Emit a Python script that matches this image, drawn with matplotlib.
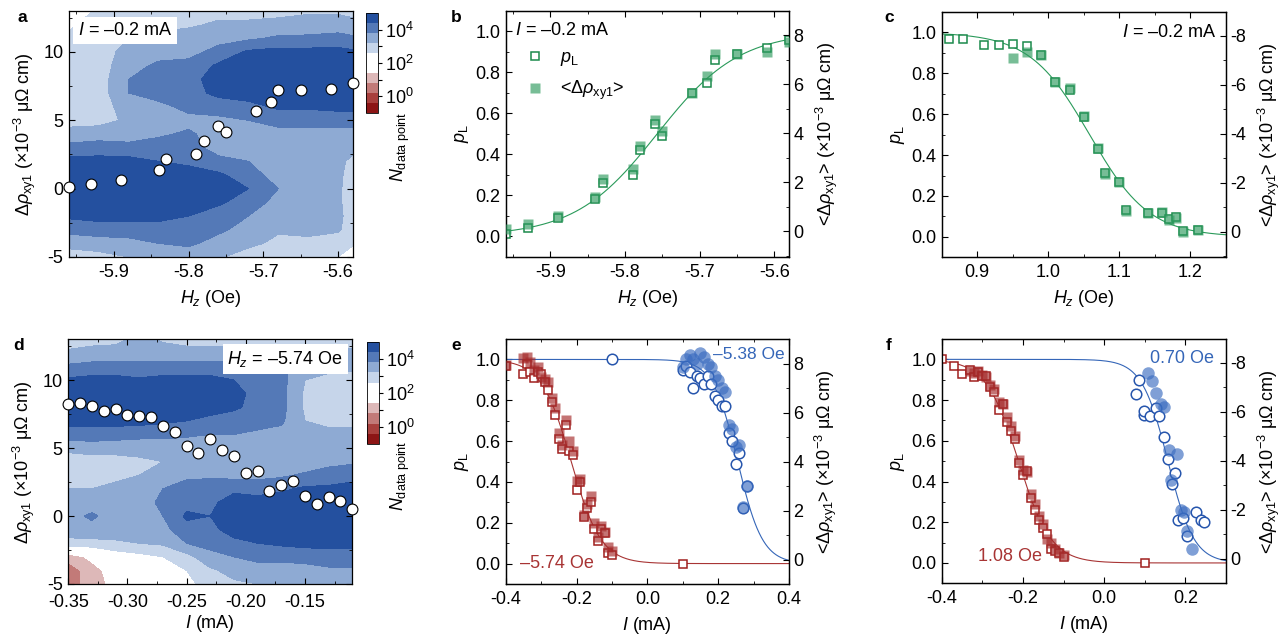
import numpy as np
import matplotlib
matplotlib.use("Agg")
import matplotlib.pyplot as plt
from matplotlib.ticker import MultipleLocator, FormatStrFormatter
from matplotlib.lines import Line2D

# ---------------- data ----------------
# panel a / b : I = -0.2 mA, sweep of H_z
hz_ab = [-5.96, -5.93, -5.89, -5.84, -5.83, -5.79, -5.78, -5.76, -5.75,
         -5.71, -5.69, -5.68, -5.65, -5.61, -5.58]
drho_ab = [0.10, 0.32, 0.64, 1.40, 2.15, 2.55, 3.50, 4.55, 4.12,
           5.66, 6.35, 7.23, 7.23, 7.32, 7.74]
pl_b = [0.01, 0.04, 0.09, 0.18, 0.26, 0.30, 0.42, 0.55, 0.49,
        0.70, 0.75, 0.86, 0.89, 0.92, 0.96]

# panel c : I = -0.2 mA, positive H_z
hz_c = [0.86, 0.88, 0.91, 0.93, 0.95, 0.97, 0.99, 1.01, 1.03, 1.05,
        1.07, 1.08, 1.10, 1.11, 1.14, 1.16, 1.17, 1.18, 1.19, 1.21]
pl_c = [0.97, 0.97, 0.94, 0.94, 0.945, 0.935, 0.89, 0.76, 0.72, 0.585,
        0.43, 0.31, 0.27, 0.13, 0.115, 0.115, 0.085, 0.095, 0.03, 0.035]
hz_c_rho = [0.95, 0.97, 0.99, 1.01, 1.03, 1.05, 1.07, 1.08, 1.10,
            1.11, 1.14, 1.16, 1.17, 1.18, 1.19, 1.21]
drho_c = [-7.09, -7.36, -7.22, -6.13, -5.88, -4.71, -3.41, -2.36, -2.03,
          -0.86, -0.75, -0.82, -0.48, -0.55, 0.03, -0.07]

# panel d : H_z = -5.74 Oe, sweep of I
i_d = [-0.35, -0.34, -0.33, -0.32, -0.31, -0.30, -0.29, -0.28, -0.27,
       -0.26, -0.25, -0.24, -0.23, -0.22, -0.21, -0.20, -0.19, -0.18,
       -0.17, -0.16, -0.15, -0.14, -0.13, -0.12, -0.11]
drho_d = [8.21, 8.28, 8.06, 7.74, 7.84, 7.45, 7.38, 7.26, 6.60,
          6.18, 5.15, 4.66, 5.69, 4.85, 4.41, 3.19, 3.28, 1.81,
          2.28, 2.60, 1.47, 0.91, 1.38, 1.13, 0.52]

# panel e : -5.74 Oe (red) and -5.38 Oe (blue)
e_red_i = [-0.40, -0.35, -0.34, -0.33, -0.32, -0.31, -0.30, -0.29, -0.28,
           -0.27, -0.26, -0.25, -0.24, -0.23, -0.22, -0.21, -0.20, -0.19,
           -0.18, -0.17, -0.16, -0.15, -0.14, -0.13, -0.12, -0.11, -0.10, 0.10]
e_red_pl = [0.97, 0.93, 0.98, 0.94, 0.91, 0.94, 0.93, 0.89, 0.85,
            0.79, 0.73, 0.61, 0.56, 0.68, 0.55, 0.53, 0.36, 0.40,
            0.23, 0.27, 0.30, 0.17, 0.11, 0.17, 0.15, 0.05, 0.04, 0.00]
e_red_rho_i = [-0.40, -0.35, -0.34, -0.33, -0.32, -0.31, -0.30, -0.29, -0.28,
               -0.27, -0.26, -0.25, -0.24, -0.23, -0.22, -0.21, -0.20, -0.19,
               -0.18, -0.17, -0.16, -0.15, -0.14, -0.13, -0.12, -0.11, -0.10]
e_red_rho = [7.92, 8.21, 8.28, 8.06, 7.74, 7.84, 7.45, 7.38, 7.26,
             6.60, 6.18, 5.15, 4.66, 5.69, 4.85, 4.41, 3.19, 3.28,
             1.81, 2.28, 2.60, 1.47, 0.91, 1.38, 1.13, 0.52, 0.35]
e_blue_i = [-0.10, 0.10, 0.11, 0.12, 0.13, 0.14, 0.15, 0.16, 0.17, 0.18,
            0.19, 0.20, 0.21, 0.22, 0.23, 0.24, 0.25, 0.26, 0.27, 0.28]
e_blue_pl = [1.00, 0.95, 0.97, 0.94, 0.86, 0.92, 0.91, 0.88, 0.92, 0.88,
             0.82, 0.80, 0.77, 0.77, 0.64, 0.60, 0.49, 0.54, 0.27, 0.38]
e_blue_rho_i = [0.10, 0.11, 0.12, 0.13, 0.14, 0.15, 0.16, 0.17, 0.18, 0.19,
                0.20, 0.21, 0.22, 0.23, 0.24, 0.25, 0.26, 0.27, 0.28]
e_blue_rho = [7.84, 8.17, 8.34, 8.17, 8.00, 8.42, 8.25, 8.00, 7.84, 7.50,
              7.34, 7.00, 6.83, 5.50, 5.33, 4.58, 4.66, 2.16, 2.99]

# panel f : 1.08 Oe (red) and 0.70 Oe (blue)
f_red_i = [-0.40, -0.37, -0.35, -0.33, -0.32, -0.31, -0.30, -0.29, -0.28,
           -0.27, -0.26, -0.25, -0.24, -0.23, -0.22, -0.21, -0.20, -0.19,
           -0.18, -0.17, -0.16, -0.15, -0.14, -0.13, -0.12, -0.11, -0.10, 0.10]
f_red_pl = [1.00, 0.965, 0.93, 0.95, 0.915, 0.94, 0.92, 0.92, 0.865,
            0.84, 0.75, 0.78, 0.69, 0.65, 0.61, 0.49, 0.43, 0.45,
            0.32, 0.26, 0.21, 0.17, 0.14, 0.07, 0.06, 0.05, 0.03, 0.00]
f_red_rho_i = [-0.33, -0.32, -0.31, -0.30, -0.29, -0.28, -0.27, -0.26,
               -0.25, -0.24, -0.23, -0.22, -0.21, -0.20, -0.19, -0.18,
               -0.17, -0.16, -0.15, -0.14, -0.13, -0.12, -0.11, -0.10]
f_red_rho = [-7.65, -7.56, -7.65, -7.48, -7.40, -7.07, -6.91, -6.41,
             -6.33, -5.76, -5.43, -5.02, -4.03, -3.62, -3.54, -2.63,
             -2.22, -1.73, -1.40, -0.82, -0.66, -0.41, -0.25, -0.17]
f_blue_i = [0.078, 0.087, 0.097, 0.099, 0.114, 0.128, 0.135, 0.148, 0.156,
            0.168, 0.174, 0.182, 0.195, 0.205, 0.226, 0.238, 0.245]
f_blue_pl = [0.83, 0.90, 0.725, 0.745, 0.72, 0.76, 0.72, 0.62, 0.51,
             0.39, 0.44, 0.21, 0.22, 0.13, 0.25, 0.21, 0.20]
f_blue_rho_i = [0.107, 0.119, 0.127, 0.140, 0.148, 0.160, 0.164, 0.179,
                0.189, 0.197, 0.205, 0.217]
f_blue_rho = [-7.56, -7.24, -6.74, -6.33, -6.17, -4.44, -3.21, -4.28,
              -1.97, -1.89, -1.15, -0.41]

# logistic fits (centre, width); negative width = rising curve
fit_b = (-5.757, -0.055)
fit_c = (1.058, 0.042)
fit_e_red = (-0.215, 0.042)
fit_e_blue = (0.255, 0.035)
fit_f_red = (-0.211, 0.040)
fit_f_blue = (0.157, 0.032)

# log10(N data point) maps, one list per column, rows from y=13 down to y=-5
grid_y = [13, 12, 11, 10, 9, 8, 7, 6, 5, 4, 3, 2, 1, 0, -1, -2, -3, -4, -5]
grid_x_a = [-5.96, -5.92, -5.88, -5.84, -5.80, -5.76, -5.72, -5.68, -5.64, -5.60, -5.58]
dens_a = [
    [1.3, 2.5, 2.7, 2.8, 2.9, 2.9, 2.9, 3.0, 3.0, 3.4, 4.0, 4.6, 4.8, 4.8, 4.7, 4.5, 4.0, 3.4, 2.9],
    [2.9, 2.9, 2.8, 2.8, 2.9, 2.9, 2.9, 2.9, 3.0, 3.5, 4.1, 4.6, 4.8, 4.8, 4.8, 4.6, 4.1, 3.5, 3.0],
    [2.9, 3.0, 3.2, 3.5, 3.6, 3.8, 3.8, 3.5, 3.3, 3.5, 4.0, 4.6, 4.8, 4.8, 4.8, 4.6, 4.1, 3.6, 3.2],
    [2.9, 3.0, 3.4, 3.6, 3.9, 4.1, 4.1, 3.6, 3.5, 3.7, 4.1, 4.4, 4.8, 4.8, 4.8, 4.6, 4.1, 3.8, 3.3],
    [2.7, 3.1, 3.5, 3.6, 4.0, 4.1, 4.1, 4.0, 3.6, 3.9, 4.1, 4.3, 4.6, 4.8, 4.7, 4.4, 4.1, 3.9, 3.5],
    [3.0, 3.3, 3.6, 4.0, 4.5, 4.8, 4.6, 4.0, 3.7, 3.5, 3.5, 4.0, 4.5, 4.8, 4.5, 4.1, 3.9, 3.6, 3.3],
    [3.0, 3.3, 3.7, 4.5, 4.8, 4.8, 4.7, 4.2, 3.8, 3.5, 3.5, 3.8, 4.1, 4.4, 4.1, 3.8, 3.6, 3.4, 2.8],
    [3.0, 3.4, 3.9, 4.6, 4.8, 4.8, 4.8, 4.5, 4.0, 3.6, 3.4, 3.4, 3.5, 3.8, 3.6, 3.5, 3.3, 3.0, 2.7],
    [3.1, 3.5, 3.9, 4.6, 4.8, 4.8, 4.8, 4.5, 4.0, 3.6, 3.4, 3.4, 3.4, 3.4, 3.4, 3.35, 3.3, 3.1, 2.8],
    [3.1, 3.5, 4.0, 4.6, 4.8, 4.8, 4.8, 4.6, 4.0, 3.6, 3.4, 3.3, 3.3, 3.3, 3.3, 3.3, 3.25, 3.0, 2.6],
    [3.0, 3.4, 3.9, 4.5, 4.8, 4.8, 4.8, 4.6, 4.0, 3.6, 3.3, 3.1, 3.0, 2.9, 2.9, 3.0, 3.0, 2.8, 1.6],
]
grid_x_d = [-0.35, -0.33, -0.31, -0.29, -0.27, -0.25, -0.23, -0.21, -0.19, -0.17, -0.15, -0.13, -0.11]
dens_d = [
    [2.9, 3.3, 3.9, 4.5, 4.8, 4.8, 4.6, 4.1, 3.4, 2.8, 2.7, 3.2, 3.5, 3.6, 3.5, 3.0, 1.0, 0.5, 0.5],
    [3.0, 3.4, 4.0, 4.6, 4.8, 4.8, 4.6, 4.1, 3.5, 2.9, 2.8, 3.2, 3.5, 3.9, 3.6, 3.0, 1.6, 1.1, 1.1],
    [3.0, 3.5, 4.0, 4.6, 4.8, 4.8, 4.6, 4.1, 3.4, 3.0, 3.0, 3.4, 3.5, 3.5, 3.5, 3.1, 2.2, 1.8, 1.6],
    [3.4, 3.6, 3.9, 4.5, 4.8, 4.8, 4.6, 4.0, 3.4, 3.1, 3.2, 3.5, 3.6, 3.6, 3.5, 3.2, 2.4, 2.2, 2.0],
    [3.1, 3.5, 4.0, 4.6, 4.8, 4.8, 4.5, 4.0, 3.4, 3.2, 3.5, 3.8, 3.9, 3.8, 3.6, 3.3, 2.6, 2.3, 2.0],
    [3.0, 3.4, 4.0, 4.6, 4.8, 4.8, 4.4, 3.9, 3.4, 3.3, 3.7, 4.0, 4.2, 4.5, 4.2, 3.8, 3.0, 2.6, 2.4],
    [3.0, 3.4, 4.0, 4.6, 4.8, 4.7, 4.2, 3.8, 3.4, 3.3, 3.7, 4.1, 4.3, 4.4, 4.2, 4.0, 3.6, 3.1, 2.9],
    [3.0, 3.4, 4.0, 4.4, 4.6, 4.5, 4.1, 3.8, 3.4, 3.3, 3.6, 4.3, 4.6, 4.8, 4.7, 4.2, 3.8, 3.4, 3.1],
    [3.0, 3.4, 3.9, 4.1, 4.2, 4.2, 4.0, 3.7, 3.4, 3.3, 3.6, 4.2, 4.6, 4.8, 4.7, 4.4, 4.0, 3.5, 3.2],
    [3.0, 3.4, 3.9, 4.0, 4.0, 4.0, 3.9, 3.6, 3.3, 3.3, 3.7, 4.3, 4.7, 4.8, 4.8, 4.5, 4.0, 3.5, 3.2],
    [3.0, 3.3, 3.5, 3.2, 3.1, 3.1, 3.2, 3.4, 3.3, 3.4, 3.9, 4.5, 4.8, 4.8, 4.8, 4.6, 4.0, 3.6, 3.3],
    [3.0, 3.3, 3.4, 3.0, 3.0, 3.0, 3.1, 3.3, 3.4, 3.6, 4.1, 4.5, 4.8, 4.8, 4.8, 4.6, 4.1, 3.7, 3.3],
    [3.0, 3.3, 3.3, 3.0, 3.0, 3.0, 3.1, 3.3, 3.5, 3.7, 4.2, 4.6, 4.8, 4.8, 4.8, 4.6, 4.1, 3.7, 3.3],
]

# ---------------- styles ----------------
GREEN, GREEN_LINE, GREEN_FILL = "#1b8a4c", "#2a9a5a", "#2e9a5e"
RED, RED_LINE, RED_FILL = "#a01f1e", "#a83434", "#a52a2a"
BLUE, BLUE_LINE, BLUE_FILL = "#2756ad", "#3566b8", "#3a6cc0"
LEVELS = [-1.0, -0.4, 0.2, 0.8, 1.4, 2.0, 2.6, 3.2, 3.8, 4.4, 5.0]
LEVEL_COLORS = ["#8c1515", "#a8403d", "#c27a78", "#ddb8b8", "#ffffff",
                "#ffffff", "#c6d5ea", "#8eaad3", "#5479b7", "#24509f"]
FS = 13

plt.rcParams.update({
    "font.family": ["Liberation Sans", "DejaVu Sans"],
    "font.size": FS,
    "mathtext.fontset": "custom",
    "mathtext.rm": "Liberation Sans",
    "mathtext.it": "Liberation Sans:italic",
    "mathtext.bf": "Liberation Sans:bold",
    "axes.unicode_minus": False,
    "axes.linewidth": 0.9,
    "axes.labelpad": 5,
    "xtick.direction": "in",
    "ytick.direction": "in",
    "xtick.top": True,
    "ytick.right": True,
    "xtick.major.size": 4,
    "ytick.major.size": 4,
    "xtick.minor.size": 2.5,
    "ytick.minor.size": 2.5,
    "xtick.major.pad": 5,
    "ytick.major.pad": 4,
    "xtick.minor.visible": True,
    "ytick.minor.visible": True,
})

RHO_LABEL = "Δ$\\rho_{\\rm xy1}$ (×10$^{-3}$ μΩ cm)"
MEAN_LABEL = "<Δ$\\rho_{\\rm xy1}$> (×10$^{-3}$ μΩ cm)"
PL_LABEL = "$p_{\\rm L}$"


def logistic(x, fit):
    x0, w = fit
    return 1.0 / (1.0 + np.exp((x - x0) / w))


def density_panel(fig, rect, cbar_rect, gx, dens, xs, ys, xlim, xmajor, xminor):
    ax = fig.add_axes(rect)
    z = np.array(dens).T
    cs = ax.contourf(gx, grid_y, z, levels=LEVELS, colors=LEVEL_COLORS)
    ax.plot(xs, ys, "o", ms=7.8, mfc="white", mec="black", mew=0.8,
            clip_on=False, zorder=5)
    ax.set_xlim(*xlim)
    ax.set_ylim(-5, 13)
    ax.xaxis.set_major_locator(MultipleLocator(xmajor))
    ax.xaxis.set_minor_locator(MultipleLocator(xminor))
    ax.yaxis.set_major_locator(MultipleLocator(5))
    ax.yaxis.set_minor_locator(MultipleLocator(2.5))
    ax.set_ylabel(RHO_LABEL, labelpad=4)
    cax = fig.add_axes(cbar_rect)
    cb = fig.colorbar(cs, cax=cax, ticks=[0, 1, 2, 3, 4])
    cb.ax.set_yticklabels(["$10^{0}$", "", "$10^{2}$", "", "$10^{4}$"])
    cb.ax.tick_params(direction="out", length=3, width=0.8, pad=2,
                      right=True, left=False, which="major")
    cb.ax.minorticks_off()
    cb.outline.set_linewidth(0.6)
    return ax


def pl_axes(fig, rect, xlim, xmajor, xminor, rho_lim, rho_ticks):
    ax = fig.add_axes(rect)
    ax.set_xlim(*xlim)
    ax.set_ylim(-0.1, 1.1)
    ax.xaxis.set_major_locator(MultipleLocator(xmajor))
    ax.xaxis.set_minor_locator(MultipleLocator(xminor))
    ax.yaxis.set_major_locator(MultipleLocator(0.2))
    ax.yaxis.set_minor_locator(MultipleLocator(0.1))
    ax.tick_params(axis="y", which="both", right=False)
    ax.set_ylabel(PL_LABEL, labelpad=3)
    ax2 = ax.twinx()
    ax2.set_ylim(*rho_lim)
    ax2.set_yticks(rho_ticks)
    ax2.yaxis.set_minor_locator(MultipleLocator(1))
    ax2.tick_params(axis="y", which="both", direction="in", right=True, pad=3)
    ax2.set_ylabel(MEAN_LABEL, labelpad=7)
    return ax, ax2


def open_pts(ax, x, y, marker, color, ms):
    ax.plot(x, y, marker, ms=ms, mfc="white", mec=color, mew=1.1, ls="none", zorder=3)


def filled_pts(ax, x, y, marker, color, ms):
    ax.plot(x, y, marker, ms=ms, mfc=color, mec="none", alpha=0.65, ls="none", zorder=4)


def main():
    fig = plt.figure(figsize=(12.87, 6.37), dpi=100)
    W, H = 1287.0, 637.0

    def r(l, t, rgt, b):
        return [l / W, 1 - b / H, (rgt - l) / W, (b - t) / H]

    # ---- a ----
    ax_a = density_panel(fig, r(69, 11, 353, 257), r(366, 13, 378, 113),
                         grid_x_a, dens_a, hz_ab, drho_ab, (-5.96, -5.58), 0.1, 0.05)
    ax_a.set_xlabel("$H_z$ (Oe)")
    ax_a.text(0.03, 0.922, "$I$ = –0.2 mA", transform=ax_a.transAxes, ha="left",
              va="center", fontsize=FS,
              bbox=dict(facecolor="white", edgecolor="none", pad=3.5))
    fig.text(400 / W, 1 - 147 / H, "$N_{\\rm data\\ point}$", rotation=90,
             ha="center", va="center", fontsize=FS)

    # ---- b ----
    ax_b, ax_b2 = pl_axes(fig, r(505.7, 11, 789.3, 256.7), (-5.96, -5.58), 0.1, 0.05,
                          (-1.03, 9.0), [0, 2, 4, 6, 8])
    xb = np.linspace(-5.96, -5.58, 300)
    ax_b.plot(xb, logistic(xb, fit_b), color=GREEN_LINE, lw=0.8, zorder=2)
    open_pts(ax_b, hz_ab, pl_b, "s", GREEN, 6.2)
    filled_pts(ax_b2, hz_ab, drho_ab, "s", GREEN_FILL, 7.6)
    ax_b.set_xlabel("$H_z$ (Oe)")
    ax_b.text(0.033, 0.92, "$I$ = –0.2 mA", transform=ax_b.transAxes, ha="left",
              va="center", fontsize=FS)
    handles = [Line2D([], [], marker="s", ms=6.2, mfc="white", mec=GREEN, mew=1.1, ls="none"),
               Line2D([], [], marker="s", ms=7.6, mfc=GREEN_FILL, mec="none", alpha=0.65, ls="none")]
    ax_b.legend(handles, [PL_LABEL, "<Δ$\\rho_{\\rm xy1}$>"], loc="upper left",
                bbox_to_anchor=(0.04, 0.875), frameon=False, handletextpad=0.8,
                labelspacing=0.6, handlelength=1.2, borderaxespad=0)

    # ---- c ----
    ax_c, ax_c2 = pl_axes(fig, r(941.7, 12, 1226, 257.3), (0.85, 1.25), 0.1, 0.05,
                          (1.05, -8.98), [0, -2, -4, -6, -8])
    xc = np.linspace(0.85, 1.25, 300)
    ax_c.plot(xc, logistic(xc, fit_c), color=GREEN_LINE, lw=0.8, zorder=2)
    open_pts(ax_c, hz_c, pl_c, "s", GREEN, 6.2)
    filled_pts(ax_c2, hz_c_rho, drho_c, "s", GREEN_FILL, 7.6)
    ax_c.set_xlabel("$H_z$ (Oe)")
    ax_c.text(0.968, 0.918, "$I$ = –0.2 mA", transform=ax_c.transAxes, ha="right",
              va="center", fontsize=FS)

    # ---- d ----
    ax_d = density_panel(fig, r(68.3, 339.3, 352.3, 584), r(367, 341.7, 379, 444),
                         grid_x_d, dens_d, i_d, drho_d, (-0.35, -0.11), 0.05, 0.025)
    ax_d.xaxis.set_major_formatter(FormatStrFormatter("%.2f"))
    ax_d.tick_params(axis="x", which="major", pad=7)
    ax_d.set_xlabel("$I$ (mA)", labelpad=2)
    ax_d.text(0.967, 0.92, "$H_z$ = –5.74 Oe", transform=ax_d.transAxes, ha="right",
              va="center", fontsize=FS,
              bbox=dict(facecolor="white", edgecolor="none", pad=3.5))
    fig.text(400 / W, 1 - 476 / H, "$N_{\\rm data\\ point}$", rotation=90,
             ha="center", va="center", fontsize=FS)

    # ---- e ----
    ax_e, ax_e2 = pl_axes(fig, r(505.7, 339, 789, 584), (-0.4, 0.4), 0.2, 0.1,
                          (-1.0, 9.0), [0, 2, 4, 6, 8])
    xe = np.linspace(-0.4, 0.4, 400)
    ax_e.plot(xe, logistic(xe, fit_e_blue), color=BLUE_LINE, lw=0.8, zorder=2)
    ax_e.plot(xe, logistic(xe, fit_e_red), color=RED_LINE, lw=0.8, zorder=2)
    open_pts(ax_e, e_red_i, e_red_pl, "s", RED, 6.4)
    open_pts(ax_e, e_blue_i, e_blue_pl, "o", BLUE, 7.6)
    filled_pts(ax_e2, e_red_rho_i, e_red_rho, "s", RED_FILL, 7.6)
    filled_pts(ax_e2, e_blue_rho_i, e_blue_rho, "o", BLUE_FILL, 9.0)
    ax_e.set_xlabel("$I$ (mA)")
    ax_e.text(0.985, 0.935, "–5.38 Oe", transform=ax_e.transAxes, ha="right",
              va="center", color=BLUE_LINE, fontsize=12.5)
    ax_e.text(0.05, 0.082, "–5.74 Oe", transform=ax_e.transAxes, ha="left",
              va="center", color=RED_LINE, fontsize=FS)

    # ---- f ----
    ax_f, ax_f2 = pl_axes(fig, r(941.7, 339, 1226, 583.3), (-0.4, 0.3), 0.2, 0.1,
                          (1.0, -8.96), [0, -2, -4, -6, -8])
    xf = np.linspace(-0.4, 0.3, 400)
    ax_f.plot(xf, logistic(xf, fit_f_blue), color=BLUE_LINE, lw=0.8, zorder=2)
    ax_f.plot(xf, logistic(xf, fit_f_red), color=RED_LINE, lw=0.8, zorder=2)
    open_pts(ax_f, f_red_i, f_red_pl, "s", RED, 6.4)
    open_pts(ax_f, f_blue_i, f_blue_pl, "o", BLUE, 7.6)
    filled_pts(ax_f2, f_red_rho_i, f_red_rho, "s", RED_FILL, 7.6)
    filled_pts(ax_f2, f_blue_rho_i, f_blue_rho, "o", BLUE_FILL, 9.0)
    ax_f.set_xlabel("$I$ (mA)")
    ax_f.text(0.733, 0.922, "0.70 Oe", transform=ax_f.transAxes, ha="left",
              va="center", color=BLUE_LINE, fontsize=FS)
    ax_f.text(0.128, 0.108, "1.08 Oe", transform=ax_f.transAxes, ha="left",
              va="center", color=RED_LINE, fontsize=FS)

    # panel letters
    for letter, (px, py) in {"a": (22, 17), "b": (456, 17), "c": (889, 17),
                             "d": (19, 345), "e": (456, 345), "f": (889, 345)}.items():
        fig.text(px / W, 1 - py / H, letter, fontweight="bold", fontsize=12.5,
                 ha="center", va="center")

    fig.savefig("out.png", dpi=100)


if __name__ == "__main__":
    main()
